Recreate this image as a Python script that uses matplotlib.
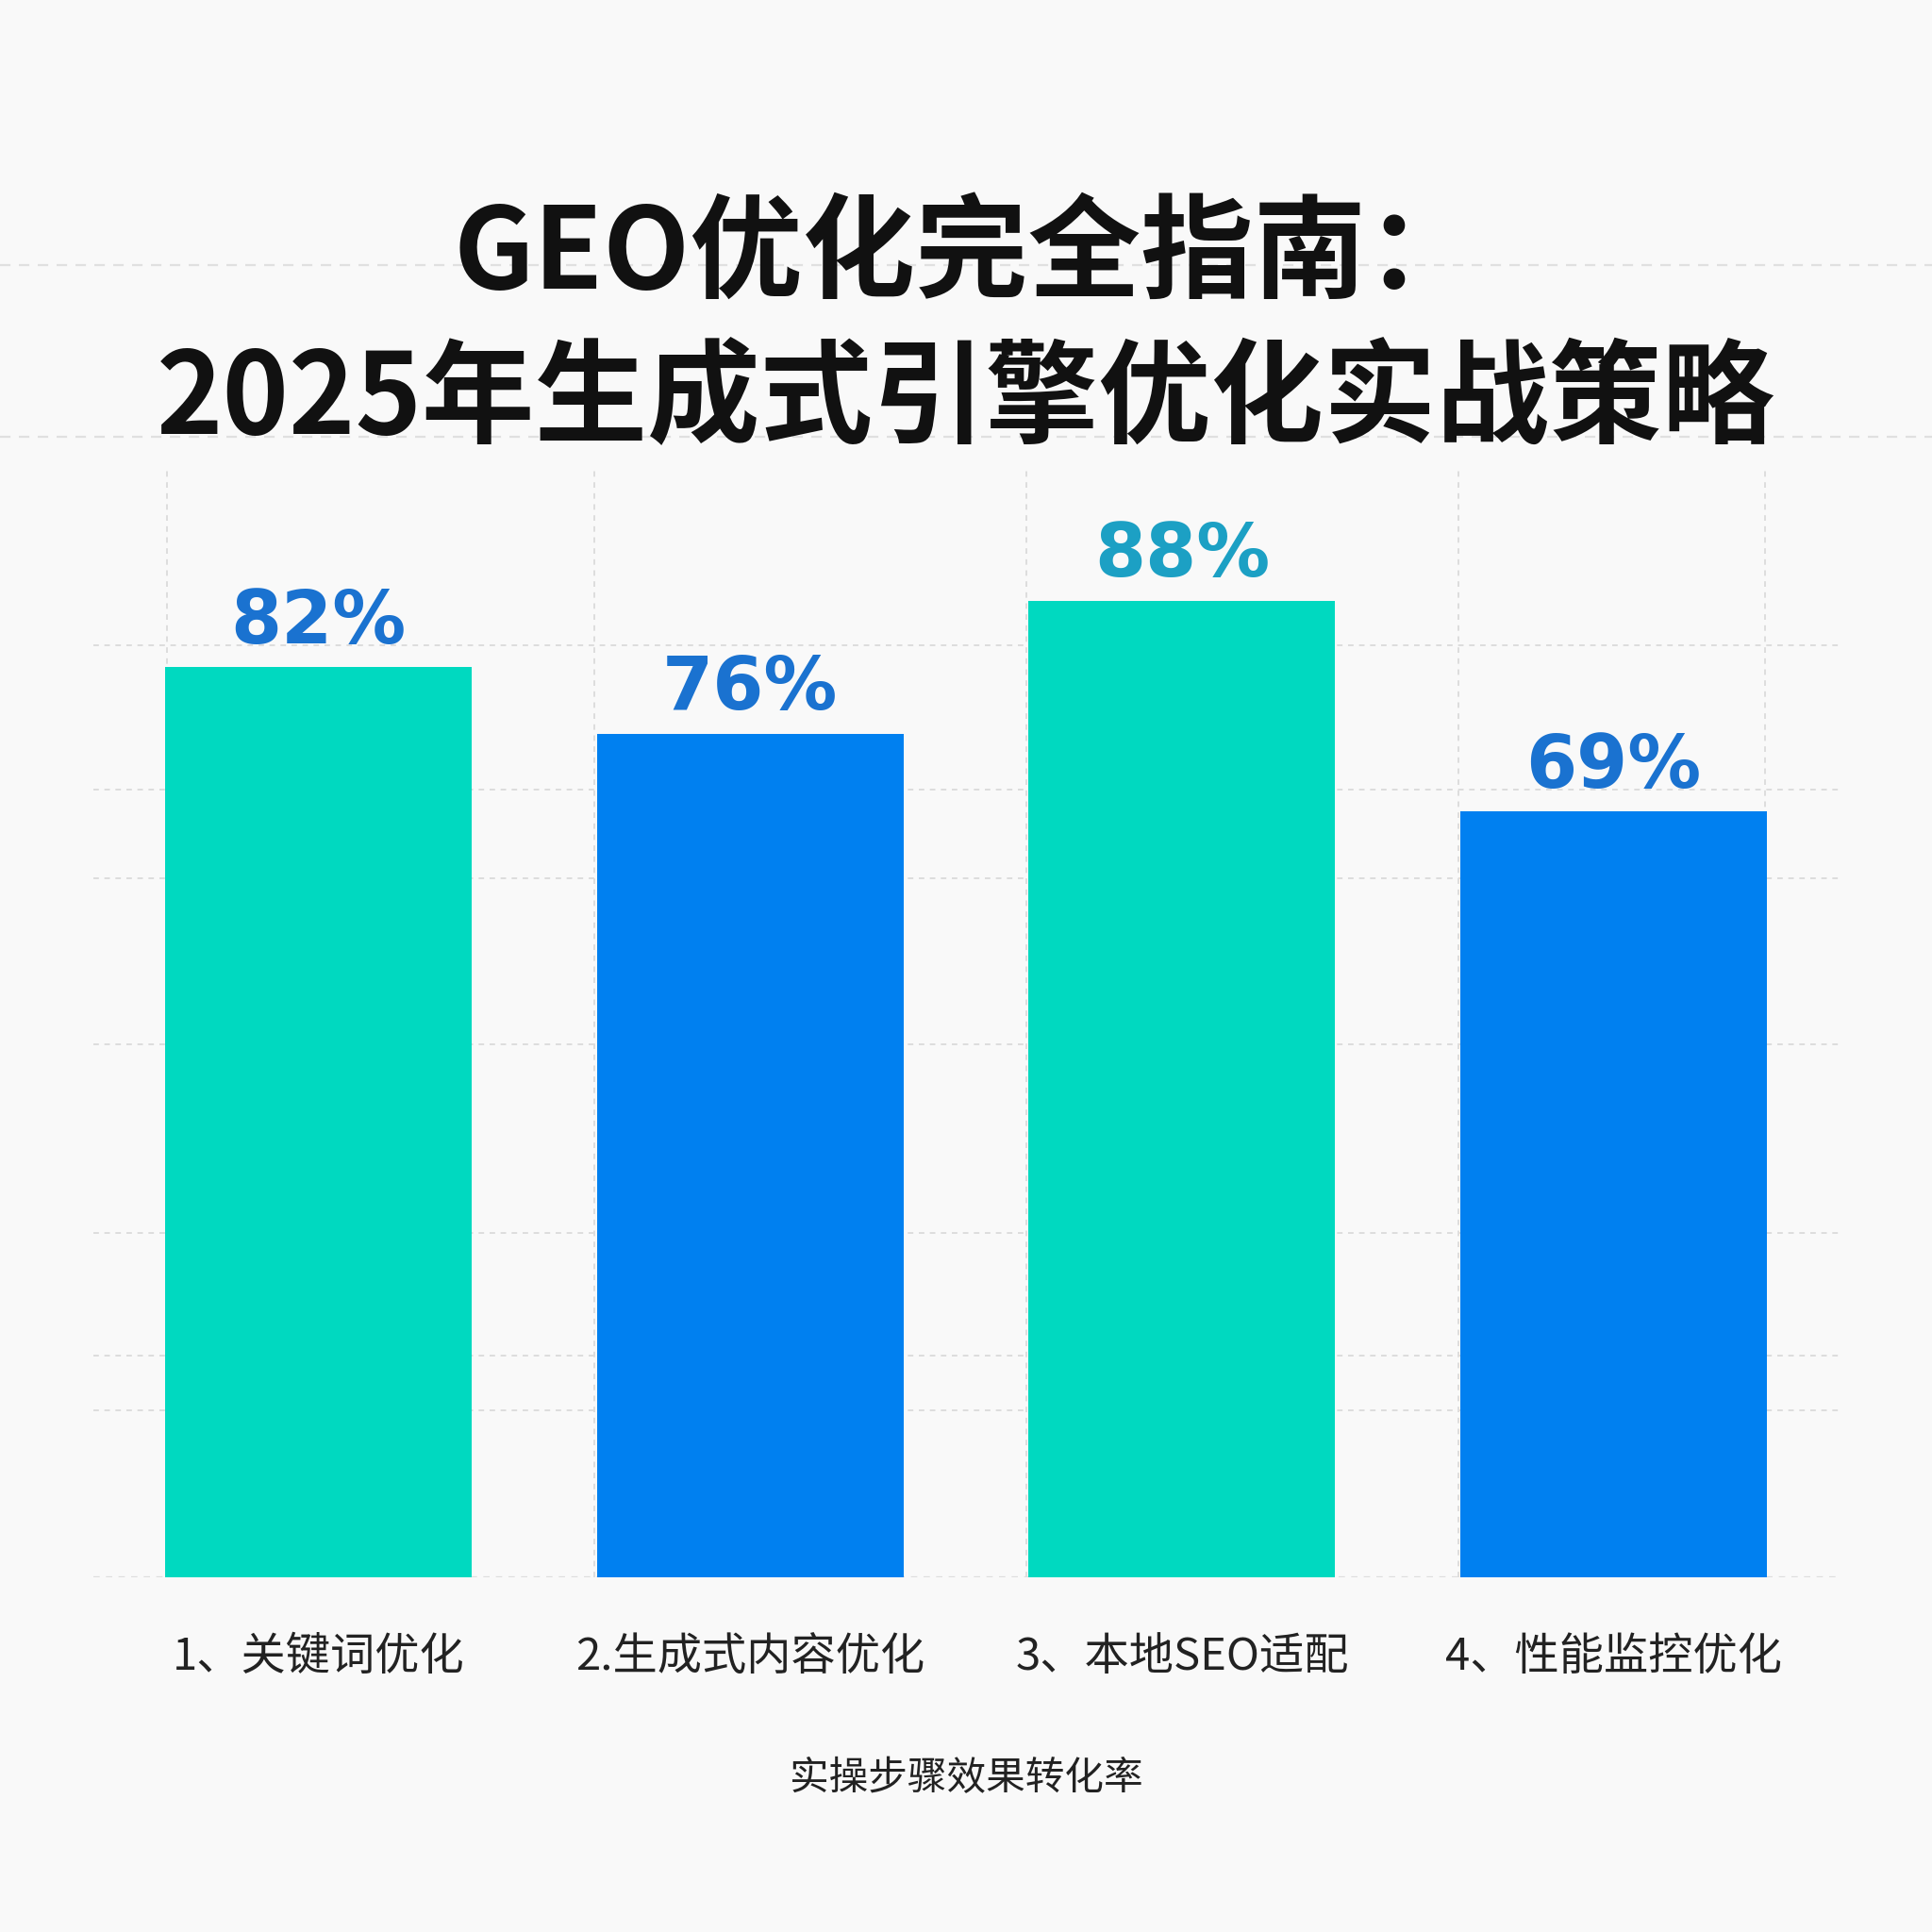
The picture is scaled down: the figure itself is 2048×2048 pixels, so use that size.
import matplotlib
matplotlib.use("Agg")
import matplotlib.pyplot as plt
from matplotlib.lines import Line2D

plt.rcParams['font.family'] = ['Noto Sans CJK SC', 'DejaVu Sans']

categories = ["1、关键词优化", "2.生成式内容优化", "3、本地SEO适配", "4、性能监控优化"]
values = [82, 76, 88, 69]
bar_colors = ["#00D9C0", "#0080F0", "#00D9C0", "#0080F0"]
label_colors = ["#1A72D0", "#1A72D0", "#1CA0C4", "#1A72D0"]
title = "GEO优化完全指南：\n2025年生成式引擎优化实战策略"
xlabel = "实操步骤效果转化率"

fig = plt.figure(figsize=(10.24, 10.24), dpi=200, facecolor="#F9F9F9")
ax = fig.add_axes([0.0485, 0.1837, 0.903, 0.5743])
ax.set_facecolor("#F9F9F9")

x = list(range(len(values)))
ax.bar(x, values, width=0.71, color=bar_colors, zorder=3)
for xi, v, c in zip(x, values, label_colors):
    ax.text(xi, v + 0.8, f"{v}%", ha="center", va="bottom", fontsize=28,
            fontweight="bold", color=c, family=['DejaVu Sans'], zorder=4)

ax.set_xlim(-0.52, 3.52)
ax.set_ylim(0, 100)
ax.set_yticks([])
ax.set_xticks(x)
ax.set_xticklabels(categories, fontsize=17, color="#222222")
ax.tick_params(axis="x", length=0, pad=22)
ax.set_xlabel(xlabel, fontsize=15, color="#222222", labelpad=30)
for s in ax.spines.values():
    s.set_visible(False)
for y in [15, 20, 31, 48, 63, 71, 84]:
    ax.axhline(y, color="#DDDDDD", lw=0.7, ls=(0, (3, 3)), zorder=1)
ax.axhline(0, color="#DDDDDD", lw=0.8, ls=(0, (3, 3)), zorder=1)
for xv in [-0.35, 0.64, 1.64, 2.64, 3.35]:
    ax.axvline(xv, color="#DDDDDD", lw=0.7, ls=(0, (3, 3)), zorder=1)

fig.text(0.5, 0.83, title, ha="center", va="center", fontsize=43,
         fontweight="bold", color="#111111", linespacing=1.35)
for yy in [0.863, 0.774]:
    fig.add_artist(Line2D([0, 1], [yy, yy], transform=fig.transFigure,
                          color="#E0E0E0", lw=0.8, ls=(0, (5, 4))))

fig.savefig("out.png", dpi=200, facecolor=fig.get_facecolor())
